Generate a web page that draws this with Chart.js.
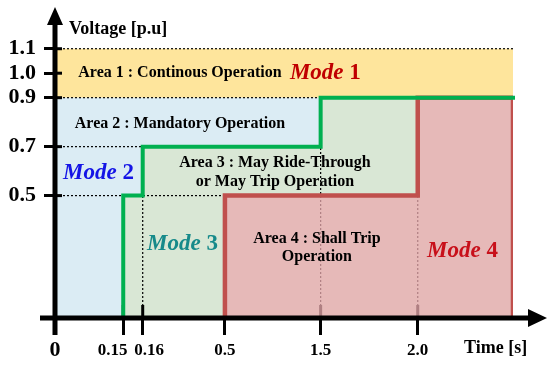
<!DOCTYPE html>
<html>
<head>
<meta charset="utf-8">
<script src="https://cdn.jsdelivr.net/npm/chart.js@4.4.1/dist/chart.umd.min.js"></script>
<style>
  html, body { margin: 0; padding: 0; background: #fff; }
  canvas { display: block; }
</style>
</head>
<body>
<canvas id="ridethroughChart" width="550" height="365"></canvas>
<script>
// Axis ticks
const voltageTicks = [0.5, 0.7, 0.9, 1.0, 1.1];
const voltageLabels = ['0.5', '0.7', '0.9', '1.0', '1.1'];
const timeTicks = [0, 0.15, 0.16, 0.5, 1.5, 2.0];
const timeLabels = ['0', '0.15', '0.16', '0.5', '1.5', '2.0'];
const timeEnd = 2.5;
const voltageTop = 1.25;

// Area 1 : continuous operation band
const continuousBand = [0.9, 1.1];

// Ride-through boundary (green step line)
const rideTime = [0.15, 0.15, 0.16, 0.16, 1.5, 1.5, 2.5];
const rideVolt = [0, 0.5, 0.5, 0.7, 0.7, 0.9, 0.9];

// Shall trip region (red)
const tripTime = [0.5, 0.5, 2.0, 2.0, 2.5, 2.5];
const tripVolt = [0, 0.5, 0.5, 0.9, 0.9, 0];

// dotted guide lines [t1, v1, t2, v2]
const guideLines = [
  [0, 1.1, 2.5, 1.1],
  [0, 0.9, 1.5, 0.9],
  [0, 0.7, 0.16, 0.7],
  [0, 0.5, 0.5, 0.5],
  [0.16, 0, 0.16, 0.5],
  [1.5, 0, 1.5, 0.7],
  [2.0, 0, 2.0, 0.5]
];

const serif = "'Liberation Serif', 'Times New Roman', serif";

// the time axis is not to scale in the figure, so map it piecewise
class SchematicTimeScale extends Chart.LinearScale {
  static id = 'schematicTime';
  static defaults = {};

  getPixelForValue(value) {
    if (value === null || isNaN(value)) return NaN;
    const stops = this.options.stops;
    let dec = stops[stops.length - 1][1];
    if (value <= stops[0][0]) {
      dec = stops[0][1];
    } else {
      for (let i = 1; i < stops.length; i++) {
        const [v0, f0] = stops[i - 1];
        const [v1, f1] = stops[i];
        if (value <= v1) {
          dec = f0 + (value - v0) / (v1 - v0) * (f1 - f0);
          break;
        }
      }
    }
    return this.getPixelForDecimal(dec);
  }

  getValueForPixel(pixel) {
    const dec = this.getDecimalForPixel(pixel);
    const stops = this.options.stops;
    for (let i = 1; i < stops.length; i++) {
      const [v0, f0] = stops[i - 1];
      const [v1, f1] = stops[i];
      if (dec <= f1) return v0 + (dec - f0) / (f1 - f0) * (v1 - v0);
    }
    return stops[stops.length - 1][0];
  }
}
Chart.register(SchematicTimeScale);

const xy = (ts, vs) => ts.map((t, i) => ({ x: t, y: vs[i] }));

const base = { pointRadius: 0, tension: 0, borderWidth: 0, borderJoinStyle: 'miter' };

const datasets = [
  { ...base, role: 'area1', order: 6,
    data: [{ x: 0, y: continuousBand[1] }, { x: timeEnd, y: continuousBand[1] }],
    fill: { value: continuousBand[0] }, backgroundColor: '#FEE59C' },
  { ...base, role: 'area2', order: 5,
    data: [{ x: 0, y: continuousBand[0] }, { x: timeEnd, y: continuousBand[0] }],
    fill: 'origin', backgroundColor: '#DBECF4' },
  { ...base, role: 'ride-fill', order: 4,
    data: xy(rideTime, rideVolt), fill: 'origin', backgroundColor: '#D9E7D5' },
  ...guideLines.map(g => ({
    ...base, role: 'guide', order: 3,
    data: [{ x: g[0], y: g[1] }, { x: g[2], y: g[3] }],
    fill: false, borderWidth: 1.2, borderColor: '#000', borderDash: [2, 2]
  })),
  { ...base, role: 'trip', order: 2,
    data: xy(tripTime, tripVolt), fill: 'origin',
    backgroundColor: 'rgba(234,169,174,0.75)', borderColor: '#C0504D', borderWidth: 4.5 },
  { ...base, role: 'ride-line', order: 1, clip: false,
    data: xy(rideTime, rideVolt), fill: false,
    borderColor: '#00B050', borderWidth: 4, borderCapStyle: 'square' }
];

// area captions and mode names, anchored in data coordinates
const areaNotes = [
  { lines: ['Area 1 : Continous Operation'], t: 0.314, v: 1.0 },
  { lines: ['Area 2 : Mandatory Operation'], t: 0.314, v: 0.7925 },
  { lines: ['Area 3 : May Ride-Through', 'or May Trip Operation'], t: 1.022, v: 0.594 },
  { lines: ['Area 4 : Shall Trip', 'Operation'], t: 1.461, v: 0.286 }
];
const modeNotes = [
  { n: '1', t: 1.179, v: 1.0, color: '#C00000' },
  { n: '2', t: 0.0176, v: 0.592, color: '#1414E6' },
  { n: '3', t: 0.178, v: 0.302, color: '#168A8A' },
  { n: '4', t: 2.049, v: 0.274, color: '#C8101A' }
];

const figurePlugin = {
  id: 'figure',
  afterDatasetDraw(chart, args) {
    // small tick stubs above the time axis, under the red region
    if (chart.data.datasets[args.index].role !== 'ride-fill') return;
    const { ctx, scales: { x, y } } = chart;
    const y0 = y.getPixelForValue(0);
    ctx.save();
    ctx.strokeStyle = '#000';
    ctx.lineWidth = 3;
    timeTicks.slice(1).forEach(t => {
      const px = x.getPixelForValue(t);
      ctx.beginPath();
      ctx.moveTo(px, y0 - 13);
      ctx.lineTo(px, y0);
      ctx.stroke();
    });
    ctx.restore();
  },
  afterDraw(chart) {
    const { ctx, scales: { x, y } } = chart;
    const x0 = x.getPixelForValue(0);
    const y0 = y.getPixelForValue(0);
    ctx.save();

    // text
    ctx.fillStyle = '#000';
    ctx.textBaseline = 'middle';
    ctx.textAlign = 'center';
    ctx.font = 'bold 16px ' + serif;
    areaNotes.forEach(a => {
      const cx = x.getPixelForValue(a.t);
      const cy = y.getPixelForValue(a.v);
      const lh = 18.5;
      a.lines.forEach((s, i) => {
        ctx.fillText(s, cx, cy + (i - (a.lines.length - 1) / 2) * lh);
      });
    });
    ctx.textAlign = 'left';
    modeNotes.forEach(m => {
      const px = x.getPixelForValue(m.t);
      const py = y.getPixelForValue(m.v);
      ctx.fillStyle = m.color;
      ctx.font = 'italic bold 23px ' + serif;
      ctx.fillText('Mode', px, py);
      const w = ctx.measureText('Mode ').width;
      ctx.font = 'bold 23px ' + serif;
      ctx.fillText(m.n, px + w, py);
    });
    ctx.fillStyle = '#000';
    ctx.font = 'bold 18px ' + serif;
    ctx.fillText('Voltage [p.u]', x0 + 14, 29);
    ctx.fillText('Time [s]', 464, 348);

    // axes with arrow heads
    ctx.strokeStyle = '#000';
    ctx.lineWidth = 5;
    ctx.beginPath();
    ctx.moveTo(x0, 335);
    ctx.lineTo(x0, 22);
    ctx.moveTo(40, y0);
    ctx.lineTo(532, y0);
    ctx.stroke();
    ctx.beginPath();
    ctx.moveTo(x0, 7);
    ctx.lineTo(x0 - 8, 25);
    ctx.lineTo(x0 + 8, 25);
    ctx.closePath();
    ctx.moveTo(547, y0);
    ctx.lineTo(528, y0 - 9);
    ctx.lineTo(528, y0 + 9);
    ctx.closePath();
    ctx.fillStyle = '#000';
    ctx.fill();

    // inner part of voltage ticks
    ctx.lineWidth = 3;
    voltageTicks.forEach(v => {
      const py = y.getPixelForValue(v);
      ctx.beginPath();
      ctx.moveTo(x0, py);
      ctx.lineTo(x0 + 7, py);
      ctx.stroke();
    });
    ctx.restore();
  }
};

new Chart(document.getElementById('ridethroughChart'), {
  type: 'line',
  data: { datasets },
  options: {
    responsive: false,
    animation: false,
    events: [],
    layout: { padding: { top: 12, right: 37, left: 0, bottom: 0 } },
    plugins: { legend: { display: false }, tooltip: { enabled: false } },
    scales: {
      x: {
        type: 'schematicTime',
        min: 0, max: timeEnd, bounds: 'data',
        stops: [[0, 0], [0.15, 0.149], [0.16, 0.1915], [0.5, 0.371], [1.5, 0.58], [2.0, 0.792], [2.5, 1]],
        afterFit: s => { s.height = 47; },
        afterBuildTicks: s => { s.ticks = timeTicks.map(v => ({ value: v })); },
        grid: { drawOnChartArea: false, drawTicks: true, tickLength: 17, tickWidth: 3, tickColor: '#000' },
        border: { display: false },
        ticks: {
          autoSkip: false, maxRotation: 0, minRotation: 0, padding: 5, color: '#000',
          font: c => c.index === 0
            ? { family: serif, size: 22, weight: 'bold', lineHeight: 0.93 }
            : { family: serif, size: 17, weight: 'bold', lineHeight: 1.2 },
          // nudge the two crowded labels apart like the figure does
          callback: (v, i) => i === 1 ? timeLabels[i] + '     ' : (i === 2 ? '   ' + timeLabels[i] : timeLabels[i])
        }
      },
      y: {
        type: 'linear',
        min: 0, max: voltageTop, bounds: 'data',
        afterFit: s => { s.width = 55; s.paddingTop = 0; s.paddingBottom = 0; },
        afterBuildTicks: s => { s.ticks = voltageTicks.map(v => ({ value: v })); },
        grid: { drawOnChartArea: false, drawTicks: true, tickLength: 11, tickWidth: 3, tickColor: '#000' },
        border: { display: false },
        ticks: {
          autoSkip: false, padding: 8, color: '#000',
          font: { family: serif, size: 22, weight: 'bold', lineHeight: 0.5 },
          callback: (v, i) => voltageLabels[i]
        }
      }
    }
  },
  plugins: [figurePlugin]
});
</script>
</body>
</html>
